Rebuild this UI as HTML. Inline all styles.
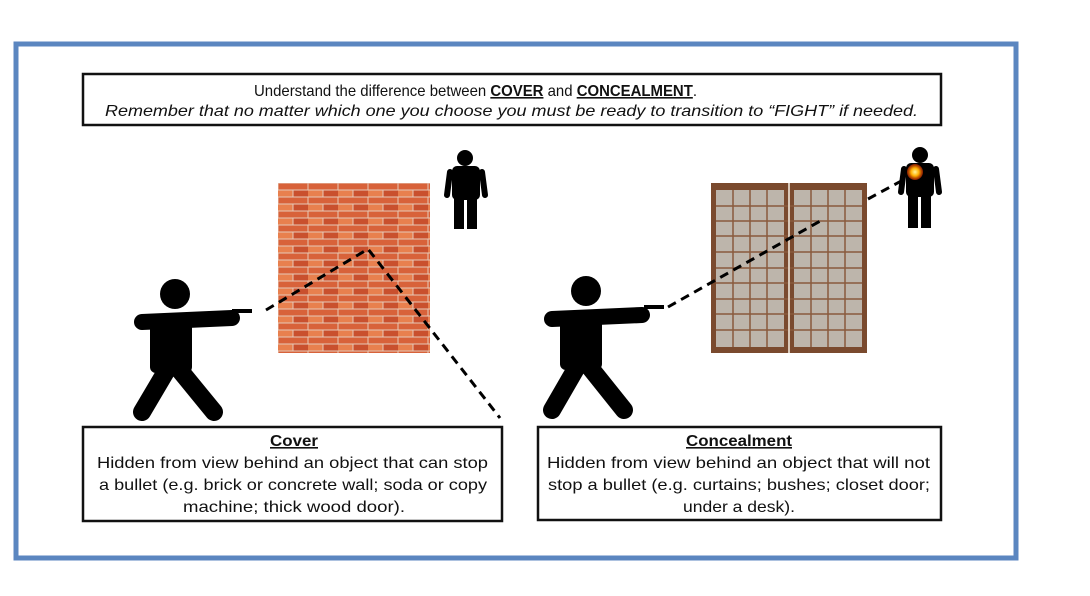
<!DOCTYPE html>
<html><head><meta charset="utf-8"><style>
html,body{margin:0;padding:0;background:#fff;width:1090px;height:596px;overflow:hidden}
svg{display:block}
text{font-family:"Liberation Sans",sans-serif;fill:#111}
</style></head><body>
<svg width="1090" height="596" viewBox="0 0 1090 596" xmlns="http://www.w3.org/2000/svg">
<defs>
<pattern id="brick" width="30" height="14" patternUnits="userSpaceOnUse" x="278" y="183">
<rect width="30" height="14" fill="#e6c9b8"/>
<rect x="0.5" y="0.5" width="29" height="6" fill="#d8623a"/>
<rect x="-14.5" y="7.5" width="29" height="6" fill="#e8804e"/>
<rect x="15.5" y="7.5" width="29" height="6" fill="#c9502e"/>
</pattern>
<radialGradient id="boom"><stop offset="0" stop-color="#fff6a0"/><stop offset="0.5" stop-color="#ffb000"/><stop offset="1" stop-color="#e03000" stop-opacity="0.6"/></radialGradient>
</defs>
<rect x="16" y="44" width="1000" height="514" fill="#fff" stroke="#5b86c0" stroke-width="5"/>
<rect x="83" y="74" width="858" height="51" fill="#fff" stroke="#111" stroke-width="2.5"/>
<text x="254" y="96" font-size="16" textLength="443" lengthAdjust="spacingAndGlyphs">Understand the difference between <tspan font-weight="bold" text-decoration="underline">COVER</tspan> and <tspan font-weight="bold" text-decoration="underline">CONCEALMENT</tspan>.</text>
<text x="105" y="116" font-size="16" font-style="italic" textLength="813" lengthAdjust="spacingAndGlyphs">Remember that no matter which one you choose you must be ready to transition to “FIGHT” if needed.</text>

<!-- left scene -->
<rect x="278" y="183" width="152" height="170" fill="url(#brick)"/>
<g fill="#000" stroke="#000" stroke-linecap="round">
<circle cx="175" cy="294" r="15" stroke="none"/>
<line x1="142" y1="322" x2="232" y2="318" stroke-width="16"/>
<rect x="150" y="315" width="42" height="58" rx="6" stroke="none"/>
<line x1="168" y1="368" x2="142" y2="412" stroke-width="18"/>
<line x1="178" y1="368" x2="214" y2="412" stroke-width="18"/>
<rect x="232" y="309" width="20" height="4" stroke="none"/>
<circle cx="465" cy="158" r="8" stroke="none"/>
<rect x="452" y="166" width="28" height="34" rx="5" stroke="none"/>
<line x1="450" y1="172" x2="447" y2="195" stroke-width="6"/>
<line x1="482" y1="172" x2="485" y2="195" stroke-width="6"/>
<rect x="454" y="195" width="10" height="34" stroke="none"/>
<rect x="467" y="195" width="10" height="34" stroke="none"/>
</g>
<polyline points="266,310 368,249 500,418" fill="none" stroke="#000" stroke-width="3" stroke-dasharray="9,6"/>

<!-- right scene -->
<rect x="711" y="183" width="156" height="170" fill="#7a4a2e"/>
<g fill="#bdb5ab">
<rect x="716" y="190" width="68" height="157"/>
<rect x="794" y="190" width="68" height="157"/>
</g>
<g stroke="#8a5a3c" stroke-width="1.5">
<line x1="733" y1="190" x2="733" y2="347"/><line x1="750" y1="190" x2="750" y2="347"/><line x1="767" y1="190" x2="767" y2="347"/>
<line x1="811" y1="190" x2="811" y2="347"/><line x1="828" y1="190" x2="828" y2="347"/><line x1="845" y1="190" x2="845" y2="347"/>
<path d="M716 206H862M716 221H862M716 236H862M716 252H862M716 268H862M716 283H862M716 299H862M716 314H862M716 330H862"/>
</g>
<line x1="789" y1="183" x2="789" y2="353" stroke="#d9c8b8" stroke-width="2"/>
<g fill="#000" stroke="#000" stroke-linecap="round">
<circle cx="586" cy="291" r="15" stroke="none"/>
<line x1="552" y1="319" x2="642" y2="315" stroke-width="16"/>
<rect x="560" y="312" width="42" height="58" rx="6" stroke="none"/>
<line x1="578" y1="365" x2="552" y2="410" stroke-width="18"/>
<line x1="588" y1="365" x2="624" y2="410" stroke-width="18"/>
<rect x="644" y="305" width="20" height="4" stroke="none"/>
<circle cx="920" cy="155" r="8" stroke="none"/>
<rect x="906" y="163" width="28" height="34" rx="5" stroke="none"/>
<line x1="904" y1="169" x2="901" y2="192" stroke-width="6"/>
<line x1="936" y1="169" x2="939" y2="192" stroke-width="6"/>
<rect x="908" y="192" width="10" height="36" stroke="none"/>
<rect x="921" y="192" width="10" height="36" stroke="none"/>
</g>
<circle cx="915" cy="172" r="8" fill="url(#boom)"/>
<line x1="668" y1="307" x2="822" y2="220" stroke="#000" stroke-width="3" stroke-dasharray="9,6"/>
<line x1="868" y1="199" x2="905" y2="179" stroke="#000" stroke-width="3" stroke-dasharray="9,6"/>

<!-- bottom boxes -->
<rect x="83" y="427" width="419" height="94" fill="#fff" stroke="#111" stroke-width="2.5"/>
<rect x="538" y="427" width="403" height="93" fill="#fff" stroke="#111" stroke-width="2.5"/>
<g font-size="16">
<text x="270" y="446" font-weight="bold" text-decoration="underline" textLength="48" lengthAdjust="spacingAndGlyphs">Cover</text>
<text x="97" y="468" textLength="391" lengthAdjust="spacingAndGlyphs">Hidden from view behind an object that can stop</text>
<text x="99" y="490" textLength="388" lengthAdjust="spacingAndGlyphs">a bullet (e.g. brick or concrete wall; soda or copy</text>
<text x="183" y="512" textLength="222" lengthAdjust="spacingAndGlyphs">machine; thick wood door).</text>
<text x="686" y="446" font-weight="bold" text-decoration="underline" textLength="106" lengthAdjust="spacingAndGlyphs">Concealment</text>
<text x="547" y="468" textLength="383" lengthAdjust="spacingAndGlyphs">Hidden from view behind an object that will not</text>
<text x="548" y="490" textLength="382" lengthAdjust="spacingAndGlyphs">stop a bullet (e.g. curtains; bushes; closet door;</text>
<text x="683" y="512" textLength="112" lengthAdjust="spacingAndGlyphs">under a desk).</text>
</g>
</svg>
</body></html>
